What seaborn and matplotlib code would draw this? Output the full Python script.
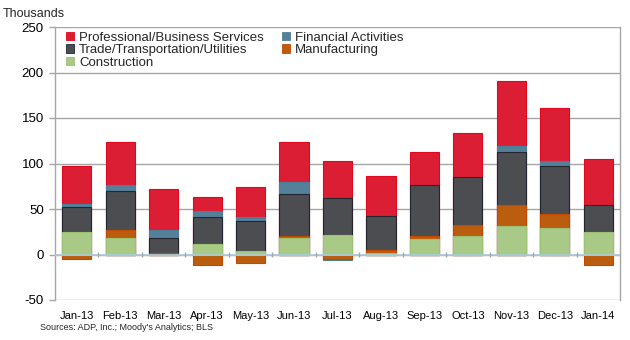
import numpy as np
import pandas as pd
import matplotlib
matplotlib.use("Agg")
import matplotlib.pyplot as plt
from matplotlib.patches import Patch
import seaborn as sns

months = ["Jan-13", "Feb-13", "Mar-13", "Apr-13", "May-13", "Jun-13", "Jul-13",
          "Aug-13", "Sep-13", "Oct-13", "Nov-13", "Dec-13", "Jan-14"]
construction = [25, 18.5, -1, 12, 4, 18, 21, 1.5, 16.5, 20.5, 31.5, 29, 24.5]
manufacturing = [-5, 8.5, 2, -12, -9, 2.5, -5, 3, 4, 12, 22.5, 16, -12]
trade = [27.5, 42.5, 16.5, 29, 33, 46, 41, 38, 56, 53, 58.5, 52, 30]
financial = [3.5, 6.5, 8.5, 7, 4, 13, -1, -0.5, 0, -1, 7, 6, 0]
professional = [41, 48, 44.5, 15, 33.5, 44, 41, 43.5, 36.5, 48, 71, 58.5, 50]

names = ["Construction", "Manufacturing", "Trade/Transportation/Utilities",
         "Financial Activities", "Professional/Business Services"]
series = [construction, manufacturing, trade, financial, professional]
fills = ["#A9C987", "#BB5D0F", "#4C4D51", "#55809A", "#DC1E35"]
edges = ["#9CC274", "#C24A00", "#23262E", "#4D7E98", "#E2061E"]

sns.set_theme(style="white")
plt.rcParams["font.family"] = ["Liberation Sans", "DejaVu Sans"]
plt.rcParams["axes.unicode_minus"] = False

fig = plt.figure(figsize=(6.3, 3.4), dpi=100)
ax = fig.add_axes([55 / 630, 40 / 340, 565 / 630, 273 / 340])

vals = np.array(series, dtype=float)
pos = np.clip(vals, 0, None)
neg = np.clip(vals, None, 0)
pos_cum = np.cumsum(pos, axis=0)
neg_cum = np.cumsum(neg, axis=0)

# draw from top layer down so lower layers cover the upper ones
for k in range(len(series) - 1, -1, -1):
    for cum, part in ((pos_cum, pos), (neg_cum, neg)):
        h = np.where(part[k] != 0, cum[k], np.nan)
        df = pd.DataFrame({"month": months, "value": h})
        sns.barplot(data=df, x="month", y="value", order=months, color=fills[k],
                    saturation=1, width=0.67, errorbar=None, ax=ax,
                    edgecolor=edges[k], linewidth=0.8, zorder=2)

ax.set_ylim(-50, 250)
ax.set_xlim(-0.5, len(months) - 0.5)
ax.set_yticks(np.arange(-50, 251, 50))
ax.yaxis.grid(True, color="#A6A6A6", linewidth=1.0, zorder=0)
ax.set_axisbelow(True)
ax.set_xlabel("")
ax.set_ylabel("")

for s in ["top", "bottom"]:
    ax.spines[s].set_visible(False)
for s in ["left", "right"]:
    ax.spines[s].set_visible(True)
    ax.spines[s].set_color("#A6A6A6")
    ax.spines[s].set_linewidth(1.0)

ax.axhline(0, color="#A9CCDA", linewidth=1.2, zorder=5)
ax.vlines(np.arange(0.5, len(months) - 0.5, 1), -3, 3, color="#A6A6A6",
          linewidth=1.0, zorder=5)

ax.tick_params(axis="y", which="both", left=True, length=4, width=1,
               color="#A6A6A6", labelsize=9.5, pad=4, labelcolor="#000000")
ax.tick_params(axis="x", which="both", bottom=False, length=0, labelsize=8,
               pad=8, labelcolor="#000000")

order = [4, 2, 0, 3, 1]
handles = [Patch(facecolor=fills[i], edgecolor=edges[i], linewidth=0.6) for i in order]
labels = [names[i] for i in order]
leg = ax.legend(handles, labels, ncol=2, loc="upper left",
                bbox_to_anchor=(0.005, 1.012), frameon=False, fontsize=9.5,
                handlelength=0.6, handleheight=0.6, handletextpad=0.4,
                columnspacing=1.4, labelspacing=0.05, borderaxespad=0.2)

fig.text(3 / 630, 1 - 14 / 340, "Thousands", fontsize=9, va="center", ha="left")
fig.text(40 / 630, 1 - 328 / 340, "Sources: ADP, Inc.; Moody's Analytics; BLS",
         fontsize=6.5, va="center", ha="left")

fig.savefig("out.png", dpi=100)
